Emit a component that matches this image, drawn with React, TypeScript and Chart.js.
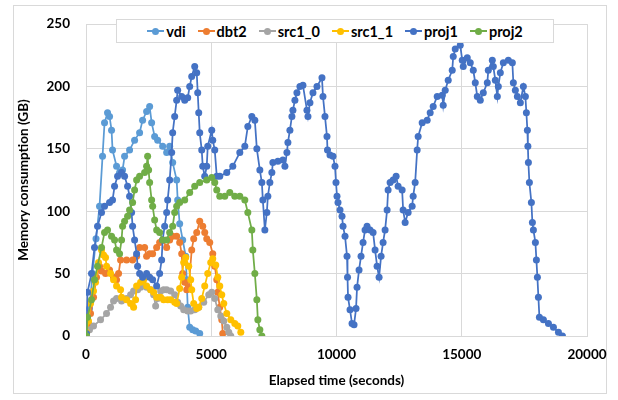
import React, { useEffect, useRef } from "react";
import { Chart, registerables } from "chart.js";

Chart.register(...registerables);

// [elapsed seconds, memory GB]
const vdiData: number[][] = [
  [20, 2], [140, 22], [260, 50], [400, 78], [540, 104], [660, 144], [740, 171], [860, 179], [940, 176],
  [1020, 165], [1060, 149], [1220, 136], [1340, 131], [1460, 133], [1540, 144], [1740, 149], [1940, 157],
  [2140, 163], [2260, 173], [2420, 180], [2540, 184], [2620, 171], [2740, 160], [2860, 157], [3060, 152],
  [3220, 147], [3340, 152], [3460, 139], [3620, 125], [3660, 109], [3740, 90], [3860, 77], [3980, 64],
  [4020, 45], [4060, 23], [4140, 7], [4260, 5], [4380, 4], [4540, 2],
];

const dbt2Data: number[][] = [
  [20, 2], [100, 10], [180, 18], [300, 31], [420, 47], [540, 56], [620, 52], [780, 50], [940, 53],
  [1100, 47], [1220, 45], [1300, 50], [1380, 61], [1620, 61], [1860, 61], [2020, 64], [2140, 71],
  [2340, 71], [2420, 64], [2540, 66], [2660, 66], [2820, 71], [2940, 75], [3060, 77], [3220, 71],
  [3340, 77], [3460, 80], [3620, 80], [3740, 75], [3820, 66], [3860, 50], [3940, 43], [4020, 37],
  [4100, 39], [4220, 69], [4300, 78], [4420, 83], [4540, 92], [4660, 88], [4740, 83], [4820, 78],
  [4940, 75], [5060, 66], [5140, 56], [5220, 45], [5260, 35], [5340, 23], [5420, 13], [5460, 2],
];

const src10Data: number[][] = [
  [20, 2], [140, 5], [300, 8], [580, 13], [820, 18], [980, 23], [1100, 28], [1220, 30], [1420, 28],
  [1620, 30], [1780, 33], [1900, 36], [2060, 37], [2180, 39], [2300, 41], [2420, 39], [2580, 37],
  [2700, 33], [2780, 24], [2860, 30], [2980, 36], [3100, 37], [3220, 37], [3380, 36], [3540, 33],
  [3660, 27], [3780, 24], [3900, 21], [4060, 20], [4180, 20], [4340, 21], [4500, 23], [4700, 27],
  [4900, 33], [5020, 35], [5140, 30], [5260, 21], [5380, 16], [5500, 12], [5620, 7], [5700, 3], [5780, 0],
];

const src11Data: number[][] = [
  [20, 3], [100, 12], [180, 26], [300, 36], [380, 43], [500, 59], [620, 69], [700, 65], [780, 63],
  [820, 56], [980, 50], [1100, 45], [1220, 40], [1380, 37], [1420, 31], [1620, 29], [1780, 26],
  [1900, 23], [1980, 29], [2020, 40], [2180, 43], [2300, 45], [2420, 40], [2580, 37], [2700, 35],
  [2820, 31], [2980, 31], [3100, 29], [3260, 29], [3380, 29], [3540, 27], [3620, 26], [3740, 38],
  [3820, 47], [3900, 59], [3980, 63], [4100, 56], [4180, 45], [4220, 37], [4300, 26], [4420, 22],
  [4500, 23], [4620, 30], [4740, 40], [4860, 50], [4980, 59], [5060, 62], [5180, 57], [5260, 47],
  [5340, 40], [5420, 33], [5500, 26], [5620, 18], [5780, 13], [5940, 10], [6060, 8], [6180, 3],
];

const proj1Data: number[][] = [
  [20, 2], [60, 35], [220, 50], [340, 71], [460, 88], [620, 99], [740, 104], [940, 107], [1060, 109],
  [1140, 120], [1260, 128], [1420, 131], [1540, 128], [1660, 120], [1740, 112], [1820, 99], [1860, 88],
  [1940, 77], [2020, 66], [2060, 56], [2140, 50], [2260, 47], [2420, 50], [2540, 47], [2660, 45],
  [2820, 40], [2940, 50], [3020, 61], [3060, 77], [3140, 88], [3220, 99], [3260, 109], [3340, 125],
  [3420, 147], [3460, 163], [3540, 176], [3620, 189], [3660, 197], [3820, 192], [3940, 189], [4060, 191],
  [4140, 200], [4220, 208], [4340, 216], [4420, 211], [4460, 195], [4500, 179], [4540, 163], [4620, 149],
  [4660, 136], [4740, 128], [4820, 136], [4860, 152], [5020, 165], [5060, 157], [5140, 149], [5220, 128],
  [5340, 128], [5620, 131], [5860, 136], [6140, 147], [6340, 152], [6460, 168], [6620, 176], [6740, 173],
  [6820, 150], [6940, 133], [7020, 123], [7060, 109], [7140, 85], [7220, 99], [7260, 112], [7340, 123],
  [7420, 131], [7460, 139], [7660, 140], [7860, 141], [7940, 136], [8020, 147], [8060, 155], [8140, 165],
  [8220, 176], [8260, 181], [8340, 189], [8420, 195], [8540, 200], [8660, 201], [8820, 181], [8860, 176],
  [8940, 187], [9060, 195], [9220, 200], [9420, 207], [9460, 192], [9540, 176], [9620, 160], [9640, 149],
  [9740, 145], [9860, 144], [9940, 136], [9980, 123], [10020, 112], [10060, 107], [10140, 101], [10220, 96],
  [10260, 88], [10340, 80], [10420, 64], [10440, 47], [10460, 31], [10540, 21], [10620, 10], [10700, 9],
  [10780, 22], [10820, 39], [10900, 53], [10980, 64], [11060, 75], [11140, 85], [11220, 88], [11340, 85],
  [11460, 83], [11540, 69], [11620, 56], [11700, 47], [11780, 64], [11860, 75], [11940, 85], [12020, 101],
  [12060, 117], [12140, 123], [12260, 125], [12380, 128], [12460, 120], [12620, 117], [12660, 101],
  [12740, 91], [12860, 99], [13020, 104], [13060, 112], [13140, 123], [13220, 149], [13260, 160],
  [13420, 171], [13620, 173], [13740, 179], [13860, 184], [14020, 192], [14220, 193], [14260, 185],
  [14340, 197], [14460, 205], [14620, 213], [14660, 224], [14740, 230], [14940, 233], [15020, 221],
  [15060, 216], [15220, 223], [15340, 219], [15460, 213], [15540, 203], [15620, 192], [15740, 189],
  [15860, 195], [16020, 203], [16060, 213], [16220, 221], [16260, 216], [16340, 205], [16420, 192],
  [16460, 200], [16540, 211], [16660, 219], [16860, 221], [17020, 219], [17060, 203], [17140, 197],
  [17220, 192], [17340, 187], [17460, 200], [17540, 192], [17580, 179], [17620, 165], [17640, 152],
  [17660, 139], [17700, 123], [17780, 107], [17820, 91], [17860, 85], [17940, 75], [17980, 61],
  [18020, 47], [18060, 31], [18100, 15], [18260, 13], [18460, 10], [18660, 7], [18860, 3], [19020, 0],
];

const proj2Data: number[][] = [
  [20, 0], [60, 15], [220, 29], [340, 45], [460, 56], [620, 71], [740, 83], [860, 85], [1020, 80],
  [1140, 77], [1220, 69], [1340, 66], [1420, 77], [1460, 88], [1540, 92], [1660, 96], [1740, 101],
  [1860, 107], [1940, 117], [2020, 125], [2140, 128], [2340, 131], [2420, 136], [2460, 144], [2500, 133],
  [2540, 123], [2620, 109], [2660, 104], [2740, 93], [2820, 85], [2940, 83], [3060, 77], [3220, 77],
  [3340, 83], [3460, 88], [3540, 99], [3620, 104], [3740, 107], [3940, 109], [4140, 115], [4340, 120],
  [4540, 123], [4820, 125], [5020, 127], [5140, 123], [5220, 117], [5340, 112], [5540, 112], [5740, 115],
  [5940, 112], [6140, 112], [6340, 109], [6460, 99], [6620, 85], [6660, 69], [6740, 50], [6820, 29],
  [6860, 13], [6940, 5], [7020, 0],
];

const seriesNames = ["vdi", "dbt2", "src1_0", "src1_1", "proj1", "proj2"];
const seriesColors = ["#5B9BD5", "#ED7D31", "#A5A5A5", "#FFC000", "#4472C4", "#70AD47"];
const seriesData = [vdiData, dbt2Data, src10Data, src11Data, proj1Data, proj2Data];

const xTicks = [0, 5000, 10000, 15000, 20000];
const yTicks = [0, 50, 100, 150, 200, 250];

const FONT = "Lato, 'Liberation Sans', sans-serif";

const frame = {
  id: "frame",
  beforeDraw(chart: any) {
    const { ctx, width, height } = chart;
    ctx.save();
    ctx.fillStyle = "#ffffff";
    ctx.fillRect(0, 0, width, height);
    ctx.strokeStyle = "#d9d9d9";
    ctx.lineWidth = 1;
    ctx.strokeRect(13.5, 5.5, 593, 388);
    ctx.restore();
  },
};

export default function App() {
  const ref = useRef<HTMLCanvasElement>(null);

  useEffect(() => {
    if (!ref.current) return;
    const tickFont = { family: FONT, size: 13.5, weight: "bold" as const };
    const chart = new Chart(ref.current, {
      type: "line",
      data: {
        datasets: seriesNames.map((name, i) => ({
          label: name,
          data: seriesData[i].map(([x, y]) => ({ x, y })),
          borderColor: seriesColors[i],
          backgroundColor: seriesColors[i],
          pointBackgroundColor: seriesColors[i],
          pointBorderColor: seriesColors[i],
          pointBorderWidth: 0,
          pointRadius: 3.5,
          pointHoverRadius: 3.5,
          borderWidth: 1.75,
          tension: 0,
          fill: false,
          order: seriesNames.length - i,
        })),
      },
      options: {
        responsive: false,
        animation: false,
        events: [],
        layout: { padding: { top: 24, right: 31, left: 0, bottom: 0 } },
        plugins: { legend: { display: false }, tooltip: { enabled: false } },
        scales: {
          x: {
            type: "linear",
            min: xTicks[0],
            max: xTicks[xTicks.length - 1],
            afterBuildTicks: (s: any) => {
              s.ticks = xTicks.map((v) => ({ value: v }));
            },
            ticks: {
              padding: 11,
              color: "#000",
              font: tickFont,
              maxRotation: 0,
              callback: (v: any) => String(v),
            },
            grid: { color: "#d9d9d9", drawTicks: false, lineWidth: 1 },
            border: { color: "#d9d9d9" },
            title: {
              display: true,
              text: "Elapsed time (seconds)",
              color: "#000",
              font: { family: FONT, size: 13.5, weight: "bold" },
              padding: { top: 0, bottom: 11 },
            },
            afterFit: (s: any) => {
              s.height = 64;
            },
          },
          y: {
            type: "linear",
            min: yTicks[0],
            max: yTicks[yTicks.length - 1],
            afterBuildTicks: (s: any) => {
              s.ticks = yTicks.map((v) => ({ value: v }));
            },
            ticks: {
              padding: 16,
              color: "#000",
              font: tickFont,
              callback: (v: any) => String(v),
            },
            grid: { color: "#d9d9d9", drawTicks: false, lineWidth: 1 },
            border: { color: "#d9d9d9" },
            title: {
              display: true,
              text: "Memory consumption (GB)",
              color: "#000",
              font: { family: FONT, size: 13.5, weight: "bold" },
              padding: { top: 16, bottom: 0 },
            },
            afterFit: (s: any) => {
              s.width = 86;
            },
          },
        },
      },
      plugins: [frame],
    });
    return () => chart.destroy();
  }, []);

  return (
    <div style={{ position: "absolute", left: 0, top: 0, width: 618, height: 400 }}>
      <canvas ref={ref} width={618} height={400} style={{ display: "block" }} />
      <div
        style={{
          position: "absolute",
          left: 116,
          top: 19,
          width: 438,
          height: 24,
          boxSizing: "border-box",
          background: "#fff",
          border: "1px solid #d9d9d9",
          display: "flex",
          alignItems: "center",
          justifyContent: "center",
          gap: 12,
          fontFamily: FONT,
          fontWeight: "bold",
          fontSize: 14.5,
          color: "#000",
        }}
      >
        {seriesNames.map((name, i) => (
          <div key={name} style={{ display: "flex", alignItems: "center" }}>
            <div style={{ position: "relative", width: 17, height: 8, marginRight: 2 }}>
              <div
                style={{
                  position: "absolute",
                  left: 0,
                  right: 0,
                  top: 3,
                  height: 2,
                  background: seriesColors[i],
                }}
              />
              <div
                style={{
                  position: "absolute",
                  left: 5,
                  top: 0.5,
                  width: 7,
                  height: 7,
                  borderRadius: 3.5,
                  background: seriesColors[i],
                }}
              />
            </div>
            <span>{name}</span>
          </div>
        ))}
      </div>
    </div>
  );
}
